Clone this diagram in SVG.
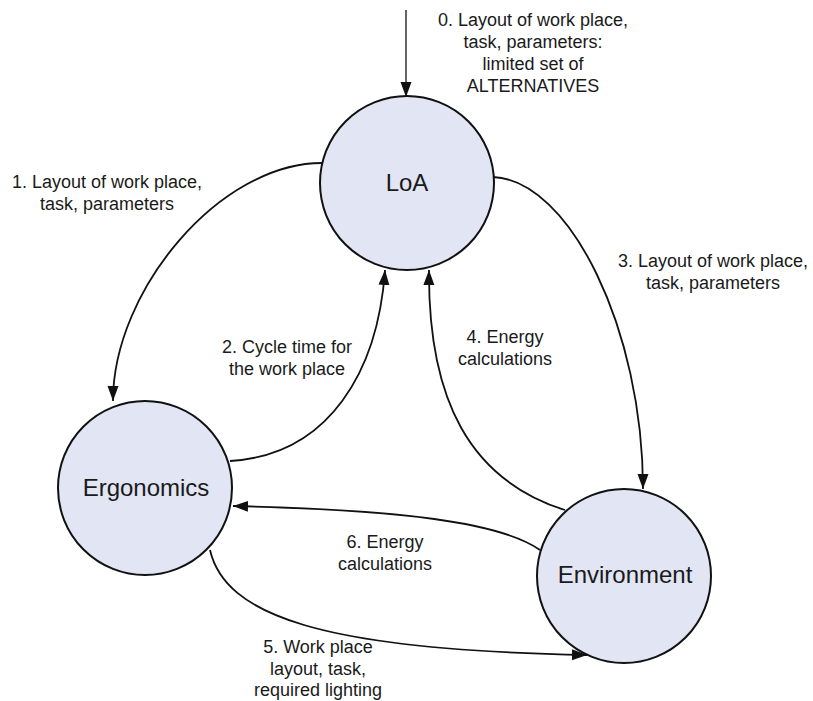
<svg xmlns="http://www.w3.org/2000/svg" width="813" height="701" viewBox="0 0 813 701">
  <defs>
    <marker id="arr" markerUnits="userSpaceOnUse" markerWidth="16" markerHeight="12" refX="15" refY="5.5" orient="auto">
      <path d="M0,0 L15,5.5 L0,11 z" fill="#111"/>
    </marker>
    <style>
      .node circle { fill: #e1e5f4; stroke: #111; stroke-width: 2; }
      .node text { font-family: "Liberation Sans", Arial, sans-serif; font-size: 24px; fill: #1a1a1a; text-anchor: middle; }
      .edge { fill: none; stroke: #111; stroke-width: 1.8; marker-end: url(#arr); }
      .lbl { font-family: "Liberation Sans", Arial, sans-serif; font-size: 18px; fill: #1a1a1a; text-anchor: middle; }
    </style>
  </defs>
  <rect width="813" height="701" fill="#ffffff"/>

  <g id="connectors">
    <path class="edge" d="M406,10 L406,97" style="stroke-width:1.3"/>
    <path class="edge" d="M322,163 C220,163 113,290 113,401"/>
    <path class="edge" d="M230,461 C330,455 378,370 385,270"/>
    <path class="edge" d="M493,177 C570,180 643,330 643,489"/>
    <path class="edge" d="M565,510 C470,480 428,400 429,270"/>
    <path class="edge" d="M540,550 C500,522 400,510 233,506"/>
    <path class="edge" d="M210,550 C225,615 320,650 587,655"/>
  </g>

  <g id="labels">
    <text class="lbl" x="533" y="26">0. Layout of work place,</text>
    <text class="lbl" x="533" y="48">task, parameters:</text>
    <text class="lbl" x="533" y="70">limited set of</text>
    <text class="lbl" x="533" y="92">ALTERNATIVES</text>

    <text class="lbl" x="107" y="188">1. Layout of work place,</text>
    <text class="lbl" x="107" y="210">task, parameters</text>

    <text class="lbl" x="287" y="353">2. Cycle time for</text>
    <text class="lbl" x="287" y="375">the work place</text>

    <text class="lbl" x="713" y="267">3. Layout of work place,</text>
    <text class="lbl" x="713" y="289">task, parameters</text>

    <text class="lbl" x="505" y="343">4. Energy</text>
    <text class="lbl" x="505" y="365">calculations</text>

    <text class="lbl" x="385" y="548">6. Energy</text>
    <text class="lbl" x="385" y="570">calculations</text>

    <text class="lbl" x="318" y="653">5. Work place</text>
    <text class="lbl" x="318" y="675">layout, task,</text>
    <text class="lbl" x="318" y="696">required lighting</text>
  </g>

  <g id="node-loa" class="node">
    <circle cx="407" cy="183" r="87"/>
    <text x="407" y="191">LoA</text>
  </g>
  <g id="node-ergonomics" class="node">
    <circle cx="145" cy="488" r="87"/>
    <text x="146" y="496">Ergonomics</text>
  </g>
  <g id="node-environment" class="node">
    <circle cx="624" cy="576" r="87"/>
    <text x="625" y="583">Environment</text>
  </g>
</svg>
